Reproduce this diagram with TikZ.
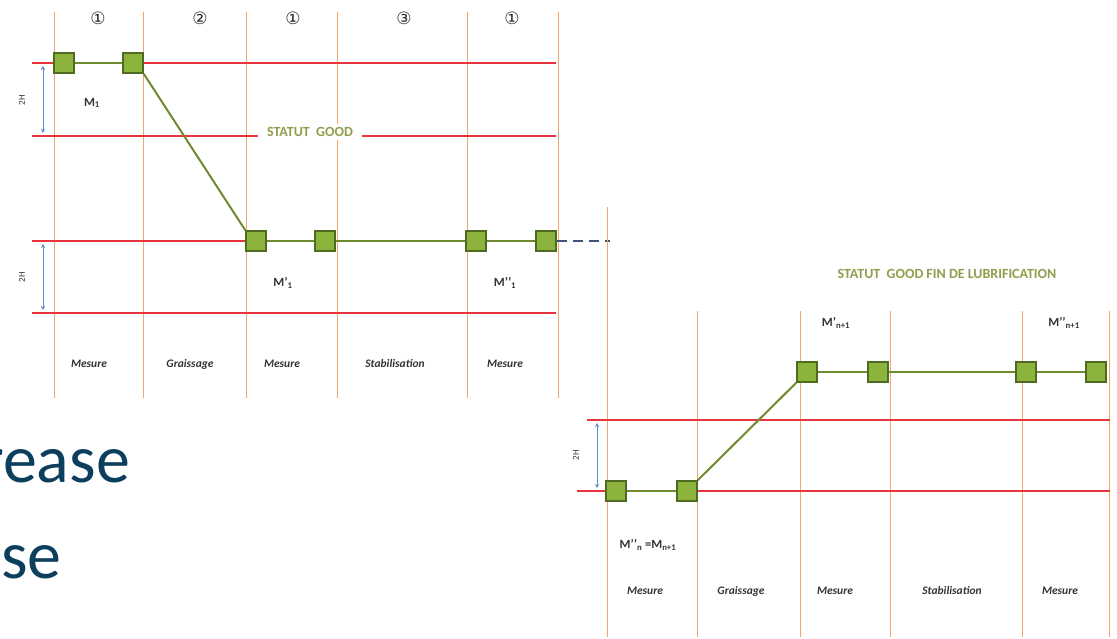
\documentclass[tikz,border=0pt]{standalone}
\usepackage{fontspec}
\setmainfont{Carlito}
\newfontfamily\dejavu{DejaVu Sans}
\usetikzlibrary{arrows.meta}
\definecolor{redline}{HTML}{E8343E}
\definecolor{orangeline}{HTML}{F2A66E}
\definecolor{sqfill}{HTML}{8CB43C}
\definecolor{sqdraw}{HTML}{4F6B22}
\definecolor{greenline}{HTML}{6E8B2E}
\definecolor{bluearrow}{HTML}{5B8FC8}
\definecolor{dashblue}{HTML}{3F5278}
\definecolor{statut}{HTML}{8E9E4C}
\definecolor{bigtext}{HTML}{0C3E5E}
\tikzset{
  sq/.style={draw=sqdraw, line width=1.3pt, fill=sqfill, minimum size=20pt, inner sep=0pt},
  vline/.style={draw=orangeline, line width=0.9pt},
  hline/.style={draw=redline, line width=1.3pt},
  link/.style={draw=greenline, line width=2pt},
  dimarrow/.style={draw=bluearrow, line width=1pt, {Stealth[length=4pt,width=4pt]}-{Stealth[length=4pt,width=4pt]}},
  lbl/.style={font=\bfseries\itshape\fontsize{11.5}{13}\selectfont, text=black!80},
  mlbl/.style={font=\bfseries\fontsize{12.5}{14}\selectfont, text=black!80},
  num/.style={font=\dejavu\fontsize{17}{19}\selectfont, text=black!85},
  hh/.style={font=\fontsize{9}{10}\selectfont, rotate=90, text=black!80},
  statuttxt/.style={font=\bfseries\fontsize{14}{16}\selectfont, text=statut},
  big/.style={font=\fontsize{68}{80}\selectfont, text=bigtext, inner sep=0pt}
}
\begin{document}
\begin{tikzpicture}[x=1pt,y=-1pt]
\useasboundingbox (0,0) rectangle (1117,639);
% ---------- left diagram ----------
\foreach \x in {54,143,246,337,467,558} \draw[vline] (\x,12) -- (\x,398);
\foreach \y in {63,136,241,313} \draw[hline] (32,\y) -- (556,\y);
\node[statuttxt, fill=white, inner xsep=9pt, inner ysep=3pt] (st1) at (310,132) {STATUT\ \ GOOD};
\draw[dimarrow] (43,66) -- (43,133);
\draw[dimarrow] (43,244) -- (43,310);
\node[hh] (h1) at (22,100) {2H};
\node[hh] (h2) at (22,277) {2H};
\node[num] (n1) at (98,18) {①};
\node[num] (n2) at (200,18) {②};
\node[num] (n3) at (293,18) {①};
\node[num] (n4) at (404,18) {③};
\node[num] (n5) at (512,18) {①};
\node[sq] (A1) at (64,63) {};
\node[sq] (A2) at (133,63) {};
\node[sq] (A3) at (256,241) {};
\node[sq] (A4) at (325,241) {};
\node[sq] (A5) at (476,241) {};
\node[sq] (A6) at (546,241) {};
\draw[link] (A1) -- (A2);
\draw[link] (A2.south east) -- (A3.north west);
\draw[link] (A3) -- (A4);
\draw[link] (A4) -- (A5);
\draw[link] (A5) -- (A6);
\coordinate (dend) at (610,241);
\draw[draw=dashblue, line width=2.6pt, dash pattern=on 10pt off 6pt] (A6.east) -- (dend);
\node[mlbl] (m1) at (92,103) {M\textsubscript{1}};
\node[mlbl] (m2) at (283,283) {M’\textsubscript{1}};
\node[mlbl] (m3) at (505,283) {M’’\textsubscript{1}};
\node[lbl] (l1) at (89,364) {Mesure};
\node[lbl] (l2) at (190,364) {Graissage};
\node[lbl] (l3) at (282,364) {Mesure};
\node[lbl] (l4) at (395,364) {Stabilisation};
\node[lbl] (l5) at (505,364) {Mesure};
% ---------- right diagram ----------
\draw[vline] (607,207) -- (607,637);
\foreach \x in {697,800,890,1022,1109} \draw[vline] (\x,311) -- (\x,637);
\draw[hline] (587,420) -- (1110,420);
\draw[hline] (577,491) -- (1110,491);
\draw[dimarrow] (597,423) -- (597,488);
\node[hh] (h3) at (576,455) {2H};
\node[statuttxt] (st2) at (947,274) {STATUT\ \ GOOD FIN DE LUBRIFICATION};
\node[sq] (B1) at (616,491) {};
\node[sq] (B2) at (687,491) {};
\node[sq] (B3) at (807,372) {};
\node[sq] (B4) at (878,372) {};
\node[sq] (B5) at (1026,372) {};
\node[sq] (B6) at (1096,372) {};
\draw[link] (B1) -- (B2);
\draw[link] (B2.north east) -- (B3.south west);
\draw[link] (B3) -- (B4);
\draw[link] (B4) -- (B5);
\draw[link] (B5) -- (B6);
\node[mlbl] (m4) at (836,323) {M’\textsubscript{n+1}};
\node[mlbl] (m5) at (1064,323) {M’’\textsubscript{n+1}};
\node[mlbl] (m6) at (648,545) {M’’\textsubscript{n} =M\textsubscript{n+1}};
\node[lbl] (r1) at (645,591) {Mesure};
\node[lbl] (r2) at (741,591) {Graissage};
\node[lbl] (r3) at (835,591) {Mesure};
\node[lbl] (r4) at (952,591) {Stabilisation};
\node[lbl] (r5) at (1060,591) {Mesure};
% ---------- large text ----------
\node[big, anchor=base east] (t1) at (130,482) {rease};
\node[big, anchor=base east] (t2) at (62,578) {se};
\end{tikzpicture}
\end{document}
